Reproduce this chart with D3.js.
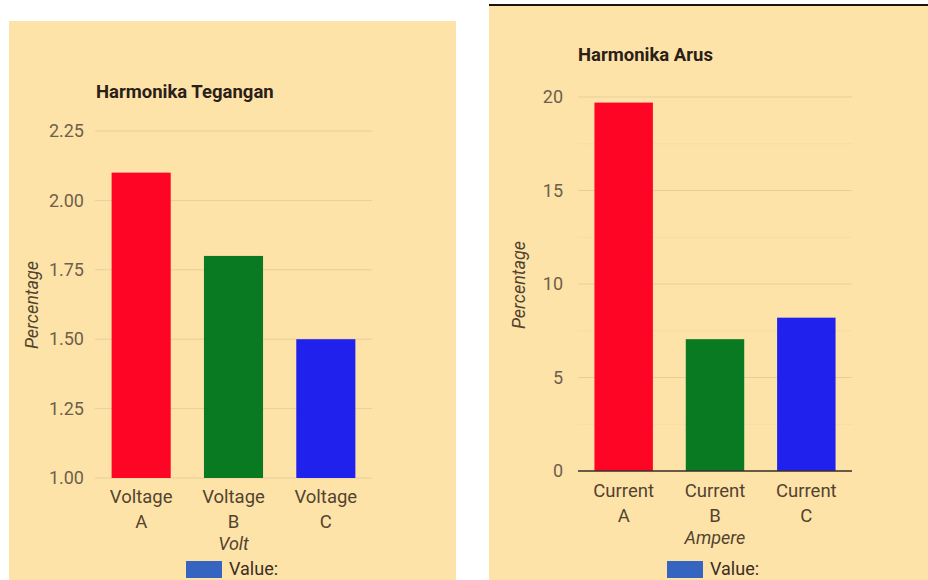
<!DOCTYPE html>
<html><head><meta charset="utf-8">
<script src="https://cdn.jsdelivr.net/npm/d3@7"></script>
<style>
html,body{margin:0;padding:0;background:#fff;}
svg{display:block;font-family:Roboto,"Noto Sans",sans-serif;}
</style></head>
<body>
<svg id="chart" width="928" height="580"></svg>
<script>
// ---- data ----
const voltCategories = ["Voltage A", "Voltage B", "Voltage C"];
const voltValues = [2.10, 1.80, 1.50];
const voltTicks = [1.00, 1.25, 1.50, 1.75, 2.00, 2.25];

const currCategories = ["Current A", "Current B", "Current C"];
const currValues = [19.7, 7.05, 8.2];
const currTicks = [0, 5, 10, 15, 20];
const currMinorTicks = [2.5, 7.5, 12.5, 17.5];

const barColors = ["#ff0525", "#0a7a22", "#2121ee"];
const legendColor = "#3565c0";

const svg = d3.select("#chart");
const BG = "#fee3a9";

// panels
svg.append("rect").attr("x", 9).attr("y", 21).attr("width", 447).attr("height", 559).attr("fill", BG);
svg.append("rect").attr("x", 489).attr("y", 6).attr("width", 439).attr("height", 574).attr("fill", BG);
svg.append("line").attr("x1", 489).attr("x2", 928).attr("y1", 5).attr("y2", 5)
  .attr("stroke", "#1a1410").attr("stroke-width", 2);

function drawChart(opt) {
  const g = svg.append("g");
  const x = d3.scaleBand().domain(opt.categories).range([opt.x0, opt.x1]).paddingInner(0.36).paddingOuter(0.18);
  const y = d3.scaleLinear().domain(opt.domain).range([opt.y0, opt.y1]);

  // minor grid
  if (opt.minor) {
    g.selectAll(".minor").data(opt.minor).join("line")
      .attr("x1", opt.x0).attr("x2", opt.x1)
      .attr("y1", d => y(d)).attr("y2", d => y(d))
      .attr("stroke", "#f3dcaa").attr("stroke-width", 1);
  }
  // major grid
  g.selectAll(".major").data(opt.ticks).join("line")
    .attr("x1", opt.x0).attr("x2", opt.x1)
    .attr("y1", d => y(d)).attr("y2", d => y(d))
    .attr("stroke", "#e6cf9c").attr("stroke-width", 1);

  // y axis tick labels
  const yAxis = d3.axisLeft(y).tickValues(opt.ticks).tickFormat(opt.fmt).tickSize(0).tickPadding(0);
  const ya = g.append("g").attr("transform", `translate(${opt.x0 - opt.tickGap},0)`).call(yAxis);
  ya.select(".domain").remove();
  ya.selectAll("text").attr("font-size", 18).attr("fill", "#6e5f4b")
    .attr("font-family", "Roboto,sans-serif");

  // bars
  g.selectAll(".bar").data(opt.values).join("rect")
    .attr("x", (d, i) => x(opt.categories[i]))
    .attr("width", x.bandwidth())
    .attr("y", d => y(d))
    .attr("height", d => y(opt.domain[0]) - y(d))
    .attr("fill", (d, i) => opt.colors[i]);

  // baseline
  if (opt.baseline) {
    g.append("line").attr("x1", opt.x0).attr("x2", opt.x1)
      .attr("y1", y(opt.domain[0])).attr("y2", y(opt.domain[0]))
      .attr("stroke", "#3a3026").attr("stroke-width", 1.5);
  }

  // x labels (two lines)
  opt.categories.forEach(c => {
    const parts = c.split(" ");
    const t = g.append("text").attr("text-anchor", "middle")
      .attr("font-size", 18.5).attr("fill", "#52432f");
    parts.forEach((p, k) => {
      t.append("tspan").attr("x", x(c) + x.bandwidth() / 2)
        .attr("y", y(opt.domain[0]) + opt.labOff + k * 25).text(p);
    });
  });

  // x axis title
  g.append("text").attr("x", (opt.x0 + opt.x1) / 2).attr("y", y(opt.domain[0]) + opt.labOff + 47)
    .attr("text-anchor", "middle").attr("font-size", 18).attr("font-style", "italic")
    .attr("fill", "#52432f").text(opt.xTitle);

  // y axis title
  g.append("text").attr("transform", `translate(${opt.yTitleX},${opt.yTitleY}) rotate(-90)`)
    .attr("text-anchor", "middle").attr("font-size", 18).attr("font-style", "italic")
    .attr("fill", "#52432f").text("Percentage");

  // title
  g.append("text").attr("x", opt.titleX).attr("y", opt.titleY)
    .attr("font-size", 18.5).attr("font-weight", "bold").attr("fill", "#2a2018").text(opt.title);

  // legend
  g.append("rect").attr("x", opt.legX).attr("y", 561).attr("width", 36).attr("height", 17).attr("fill", legendColor);
  g.append("text").attr("x", opt.legX + 43).attr("y", 575).attr("font-size", 18)
    .attr("fill", "#3a2e22").text("Value:");
}

drawChart({
  categories: voltCategories, values: voltValues, colors: barColors,
  domain: [1.00, 2.25], ticks: voltTicks, fmt: d3.format(".2f"),
  x0: 95, x1: 372, y0: 478, y1: 131, tickGap: 11, labOff: 25,
  title: "Harmonika Tegangan", titleX: 96, titleY: 98,
  xTitle: "Volt", yTitleX: 38, yTitleY: 305, legX: 186, baseline: false
});

drawChart({
  categories: currCategories, values: currValues, colors: barColors,
  domain: [0, 20], ticks: currTicks, minor: currMinorTicks, fmt: d3.format("d"),
  x0: 578, x1: 852, y0: 471, y1: 97, tickGap: 15, labOff: 26,
  title: "Harmonika Arus", titleX: 578, titleY: 61,
  xTitle: "Ampere", yTitleX: 525, yTitleY: 285, legX: 667, baseline: true
});
</script>
</body></html>
